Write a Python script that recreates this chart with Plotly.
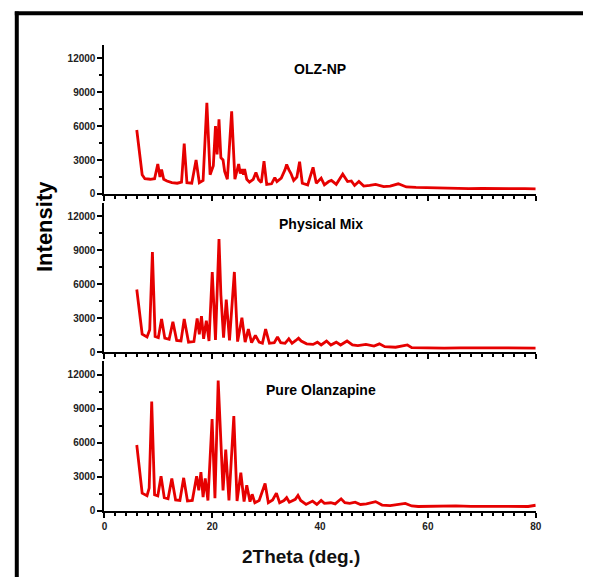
import plotly.graph_objects as go

W, H = 589, 583

# ---- data (2Theta in degrees, intensity in counts) ----
olz_np_x = [6.0, 6.5, 7.0, 7.5, 8.5, 9.3, 9.9, 10.3, 10.6, 11.0, 11.6, 12.5, 13.5, 14.3, 14.8, 15.3,
            16.2, 17.0, 17.6, 18.3, 19.0, 19.6, 20.2, 20.6, 20.9, 21.25, 21.6, 22.0, 22.3, 22.8, 23.6,
            24.2, 24.9, 25.2, 25.5, 25.8, 26.0, 26.4, 26.9, 27.6, 28.1, 28.6, 29.1, 29.6, 30.1, 31.0,
            31.6, 32.0, 32.8, 33.5, 33.8, 34.2, 34.6, 35.1, 35.7, 36.2, 36.7, 37.7, 38.7, 39.3, 40.2,
            40.8, 41.6, 42.1, 43.0, 44.2, 45.1, 45.8, 46.4, 47.2, 48.1, 49.2, 50.3, 51.8, 53.0, 54.5,
            56.0, 57.8, 60.0, 62.0, 65.2, 67.6, 70.0, 72.5, 75.0, 78.0, 80.0]
olz_np_y = [5650, 3700, 1700, 1350, 1300, 1350, 2650, 1500, 2150, 1300, 1150, 1000, 950, 1050, 4450, 1000,
            950, 3000, 1000, 1200, 8050, 1700, 2500, 6000, 3500, 6600, 3200, 3000, 2000, 1300, 7300,
            1300, 2650, 1800, 2200, 1700, 2200, 1300, 1050, 1300, 1900, 1250, 1000, 2900, 850, 900,
            1450, 1100, 1400, 2150, 2600, 2150, 1800, 1200, 1500, 2850, 950, 800, 2350, 950, 1400,
            800, 1100, 1200, 850, 1750, 1100, 1150, 750, 1100, 700, 750, 850, 650, 700, 900,
            620, 580, 550, 560, 530, 470, 500, 520, 480, 470, 450]

mix_x = [6.0, 6.5, 7.0, 7.9, 8.4, 8.9, 9.4, 10.0, 10.6, 11.2, 12.0, 12.7, 13.4, 14.2, 14.8, 15.6,
         16.6, 17.2, 17.6, 18.0, 18.4, 18.9, 19.4, 20.0, 20.6, 21.25, 21.6, 22.1, 22.6, 23.2, 24.1,
         24.7, 25.5, 26.1, 26.7, 27.3, 28.0, 28.7, 29.3, 29.9, 30.6, 31.5, 32.1, 32.7, 33.5, 34.2,
         34.8, 35.5, 36.0, 36.5, 37.5, 38.7, 39.5, 40.2, 41.2, 42.0, 43.0, 43.8, 45.0, 46.0, 47.0,
         48.5, 50.0, 51.0, 52.0, 54.0, 56.2, 57.0, 60.0, 63.0, 66.0, 70.0, 73.0, 76.0, 80.0]
mix_y = [5550, 3500, 1600, 1350, 2000, 8850, 1400, 1300, 2950, 1250, 1150, 2700, 1050, 1000, 2950, 900,
         950, 3000, 1600, 3200, 1200, 2800, 1000, 7100, 1100, 10000, 5100, 1300, 4650, 1050, 7100,
         950, 3050, 900, 2050, 850, 1500, 900, 800, 2050, 800, 850, 1350, 850, 800, 1200,
         800, 1050, 1250, 1000, 750, 700, 900, 650, 1000, 650, 900, 650, 1000, 650, 600,
         700, 550, 750, 500, 450, 650, 420, 380, 380, 400, 380, 400, 370, 380]

pure_x = [6.0, 6.5, 7.0, 7.9, 8.3, 8.77, 9.3, 9.9, 10.5, 11.1, 11.8, 12.5, 13.2, 14.0, 14.7, 15.4,
          16.3, 17.1, 17.5, 17.9, 18.3, 18.7, 19.2, 19.97, 20.5, 21.1, 21.6, 22.0, 22.5, 23.1, 24.0,
          24.6, 25.3, 25.9, 26.4, 27.0, 27.4, 27.9, 28.7, 29.8, 30.4, 31.2, 31.9, 32.5, 33.3, 33.8,
          34.3, 35.0, 35.4, 35.9, 36.4, 37.4, 38.6, 39.4, 40.2, 40.8, 42.0, 42.8, 43.9, 44.6, 45.5,
          46.5, 47.5, 48.6, 50.3, 51.5, 53.0, 55.8, 57.0, 58.2, 61.0, 65.2, 68.0, 72.0, 75.0, 78.6, 80.0]
pure_y = [5800, 3600, 1550, 1330, 2000, 9650, 1400, 1300, 3050, 1150, 1050, 2850, 950, 900, 2900, 850,
          900, 3050, 1800, 3400, 1200, 2850, 900, 8100, 1100, 11500, 5600, 1800, 5400, 900, 8350,
          850, 3350, 800, 2250, 800, 1450, 700, 900, 2400, 700, 950, 1550, 700, 900, 1150,
          750, 900, 1000, 1350, 900, 550, 850, 550, 900, 650, 700, 600, 1050, 700, 650,
          750, 550, 600, 800, 500, 450, 650, 420, 370, 400, 420, 380, 400, 370, 370, 480]

series = [("OLZ-NP", olz_np_x, olz_np_y),
          ("Physical Mix", mix_x, mix_y),
          ("Pure Olanzapine", pure_x, pure_y)]

x_ticks = [0, 20, 40, 60, 80]
y_ticks = [0, 3000, 6000, 9000, 12000]

# ---- layout helpers (page pixel -> paper) ----
def px(x):
    return x / W

def py(y):
    return 1 - y / H

RED = "rgb(230,0,0)"
INK = "#222222"

# page-pixel positions of each panel: (bottom, top)
panels_px = [(196, 45), (356, 205), (516, 365)]
title_px = [(322, 70), (323, 226), (323, 394)]

fig = go.Figure()
for i, (name, xs, ys) in enumerate(series):
    n = i + 1
    fig.add_trace(go.Scatter(x=xs, y=ys, mode="lines", name=name,
                             line=dict(color=RED, width=2.8),
                             xaxis="x" if n == 1 else f"x{n}",
                             yaxis="y" if n == 1 else f"y{n}",
                             showlegend=False, hoverinfo="skip"))
    bot, top = panels_px[i]
    xa = dict(domain=[px(103), px(541)], range=[0, 80],
              anchor="y" if n == 1 else f"y{n}",
              showline=True, linecolor="black", linewidth=2,
              ticks="outside", ticklen=5, tickwidth=2, tickcolor="black",
              tickvals=x_ticks, showticklabels=(n == 3),
              tickfont=dict(family="Liberation Sans", size=10, color=INK, weight="bold"),
              minor=dict(dtick=2, ticks="outside", ticklen=3, tickwidth=1.5, tickcolor="black"),
              showgrid=False, zeroline=False)
    ya = dict(domain=[py(bot), py(top)], range=[0, 13200],
              anchor="x" if n == 1 else f"x{n}",
              showline=True, linecolor="black", linewidth=2,
              ticks="outside", ticklen=5, tickwidth=2, tickcolor="black",
              tickvals=y_ticks, ticktext=[str(v) for v in y_ticks],
              tickfont=dict(family="Liberation Sans", size=10, color=INK, weight="bold"),
              minor=dict(dtick=1500, ticks="outside", ticklen=3, tickwidth=1.5, tickcolor="black"),
              showgrid=False, zeroline=False)
    fig.layout["xaxis" if n == 1 else f"xaxis{n}"] = xa
    fig.layout["yaxis" if n == 1 else f"yaxis{n}"] = ya
    tx, ty = title_px[i]
    fig.add_annotation(x=px(tx), y=py(ty), xref="paper", yref="paper",
                       xanchor="center", yanchor="middle",
                       text=f"<b>{name}</b>", showarrow=False,
                       font=dict(family="Liberation Sans", size=14, color="black"))

fig.add_annotation(x=px(42), y=py(229), xref="paper", yref="paper", text="<b>Intensity</b>",
                   xanchor="center", yanchor="middle", textangle=-90, showarrow=False,
                   font=dict(family="Liberation Sans", size=22, color="black"))
fig.add_annotation(x=px(303), y=py(562), xref="paper", yref="paper", text="<b>2Theta (deg.)</b>",
                   xanchor="center", yanchor="middle", showarrow=False,
                   font=dict(family="Liberation Sans", size=19, color="#111111"))

# frame: thick black lines along the top and left
fig.add_shape(type="line", xref="paper", yref="paper", x0=px(14), x1=px(14), y0=0, y1=py(11.5),
              line=dict(color="black", width=4))
fig.add_shape(type="line", xref="paper", yref="paper", x0=px(12), x1=1, y0=py(13.5), y1=py(13.5),
              line=dict(color="black", width=4))

fig.update_layout(width=W, height=H, margin=dict(l=0, r=0, t=0, b=0),
                  paper_bgcolor="white", plot_bgcolor="white")

# remove the page's default body margin so the figure fills the window exactly
fig.write_html("out.html", config={"displayModeBar": False},
               post_script="document.body.style.margin='0';document.body.style.overflow='hidden';")
